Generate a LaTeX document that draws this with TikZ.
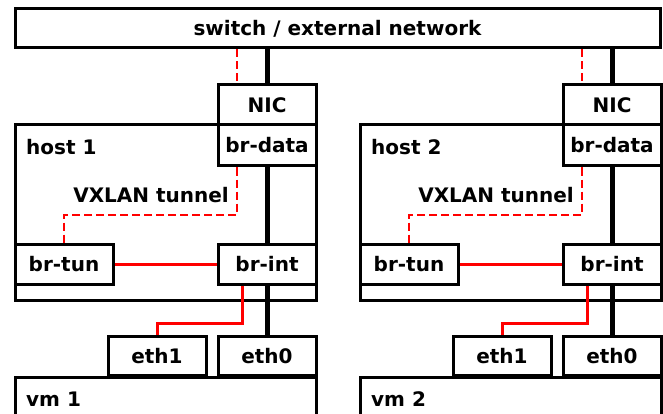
\documentclass[tikz,border=0pt]{standalone}
\usepackage{fontspec}
\setmainfont{DejaVu Sans}
\begin{document}
\begin{tikzpicture}[x=1pt,y=-1pt,
  box/.style={draw, line width=3pt, fill=white, inner sep=0pt, text height=15pt, text depth=0pt,
    font=\fontsize{20}{24}\selectfont\bfseries},
  lbl/.style={inner sep=0pt, font=\fontsize{20}{24}\selectfont\bfseries},
  wire/.style={line width=5pt},
  redwire/.style={line width=3pt, red},
  tunnel/.style={line width=2pt, red, dash pattern=on 8pt off 4pt}]
\useasboundingbox (0,0) rectangle (663,414);
\clip (0,0) rectangle (663,414);
\node[box, minimum width=645, minimum height=39] (sw) at (337.5,28.5) {switch / external network};
% host 1
\node[box, minimum width=301, minimum height=175] (host1) at (165.5,212.5) {};
\node[lbl, anchor=base west] (h1lbl) at (26,154) {host 1};
\node[box, minimum width=98, minimum height=40] (nic1) at (267,105) {NIC};
\node[box, minimum width=98, minimum height=41] (brdata1) at (267,145.5) {br-data};
\node[box, minimum width=98, minimum height=40] (brtun1) at (64,264) {br-tun};
\node[box, minimum width=98, minimum height=40] (brint1) at (267,264) {br-int};
\node[box, minimum width=301, minimum height=80] (vm1) at (165.5,417) {};
\node[lbl, anchor=base west] (vm1lbl) at (26,406) {vm 1};
\node[box, minimum width=98, minimum height=39] (eth11) at (157,355.5) {eth1};
\node[box, minimum width=98, minimum height=39] (eth01) at (267,355.5) {eth0};
\node[lbl, anchor=base east] (vx1) at (229,202) {VXLAN tunnel};
\draw[wire] (nic1.north |- sw.south) -- (nic1.north);
\draw[wire] (brdata1.south) -- (brint1.north);
\draw[wire] (brint1.south) -- (eth01.north);
\draw[tunnel] ([xshift=-30pt]nic1.north |- sw.south) -- ([xshift=-30pt]nic1.north);
\draw[tunnel] ([xshift=-30pt]brdata1.south) -- ++(0,47) -| (brtun1.north);
\draw[redwire] (brtun1.east) -- (brint1.west);
\draw[redwire] ([xshift=-25pt]brint1.south) -- ++(0,38) -| (eth11.north);
% host 2
\node[box, minimum width=301, minimum height=175] (host2) at (510.5,212.5) {};
\node[lbl, anchor=base west] (h2lbl) at (371,154) {host 2};
\node[box, minimum width=98, minimum height=40] (nic2) at (612,105) {NIC};
\node[box, minimum width=98, minimum height=41] (brdata2) at (612,145.5) {br-data};
\node[box, minimum width=98, minimum height=40] (brtun2) at (409,264) {br-tun};
\node[box, minimum width=98, minimum height=40] (brint2) at (612,264) {br-int};
\node[box, minimum width=301, minimum height=80] (vm2) at (510.5,417) {};
\node[lbl, anchor=base west] (vm2lbl) at (371,406) {vm 2};
\node[box, minimum width=98, minimum height=39] (eth12) at (502,355.5) {eth1};
\node[box, minimum width=98, minimum height=39] (eth02) at (612,355.5) {eth0};
\node[lbl, anchor=base east] (vx2) at (574,202) {VXLAN tunnel};
\draw[wire] (nic2.north |- sw.south) -- (nic2.north);
\draw[wire] (brdata2.south) -- (brint2.north);
\draw[wire] (brint2.south) -- (eth02.north);
\draw[tunnel] ([xshift=-30pt]nic2.north |- sw.south) -- ([xshift=-30pt]nic2.north);
\draw[tunnel] ([xshift=-30pt]brdata2.south) -- ++(0,47) -| (brtun2.north);
\draw[redwire] (brtun2.east) -- (brint2.west);
\draw[redwire] ([xshift=-25pt]brint2.south) -- ++(0,38) -| (eth12.north);
\end{tikzpicture}
\end{document}
